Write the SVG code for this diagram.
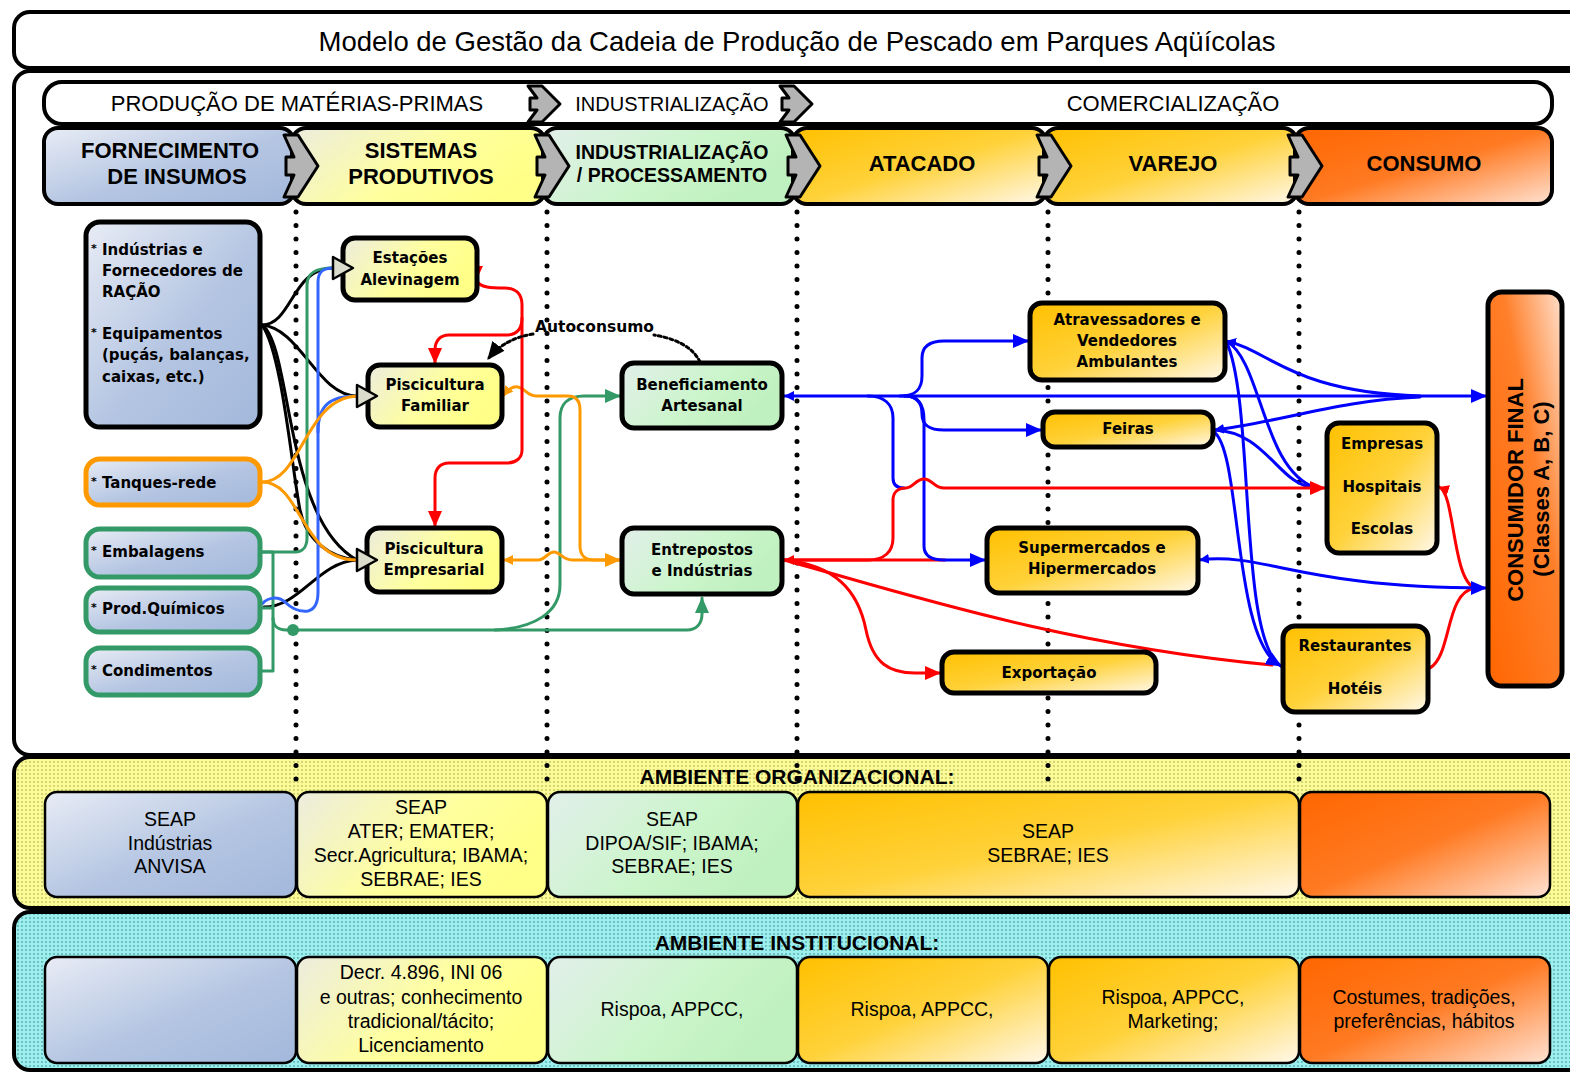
<svg xmlns="http://www.w3.org/2000/svg" width="1570" height="1074" viewBox="0 0 1570 1074">
<defs>
  <linearGradient id="gBlue" x1="0" y1="0" x2="1" y2="1">
    <stop offset="0" stop-color="#e8ecf5"/><stop offset="0.55" stop-color="#b4c5e2"/><stop offset="1" stop-color="#a3b8dc"/>
  </linearGradient>
  <linearGradient id="gYellow" x1="0" y1="0" x2="1" y2="0.4">
    <stop offset="0" stop-color="#ececdf"/><stop offset="0.6" stop-color="#ffff9e"/><stop offset="1" stop-color="#ffff88"/>
  </linearGradient>
  <linearGradient id="gGreen" x1="0" y1="0" x2="1" y2="0.4">
    <stop offset="0" stop-color="#e2efea"/><stop offset="0.6" stop-color="#cbf5cb"/><stop offset="1" stop-color="#bff0bf"/>
  </linearGradient>
  <linearGradient id="gGold" x1="0" y1="0" x2="1" y2="1">
    <stop offset="0" stop-color="#ffc000"/><stop offset="0.5" stop-color="#ffd23a"/><stop offset="1" stop-color="#fff8ea"/>
  </linearGradient>
  <linearGradient id="gOrange" x1="0" y1="0" x2="1" y2="1">
    <stop offset="0" stop-color="#ff6600"/><stop offset="0.5" stop-color="#ff7a22"/><stop offset="1" stop-color="#ffe2d2"/>
  </linearGradient>
  <linearGradient id="gCons" x1="0" y1="1" x2="1" y2="0">
    <stop offset="0" stop-color="#ff6600"/><stop offset="0.6" stop-color="#ff7f2a"/><stop offset="1" stop-color="#ffe0cc"/>
  </linearGradient>
  <pattern id="pOrg" width="4" height="4" patternUnits="userSpaceOnUse">
    <rect width="4" height="4" fill="#fbfb9a"/><circle cx="2" cy="2" r="0.9" fill="#c4c45a"/>
  </pattern>
  <pattern id="pInst" width="4" height="4" patternUnits="userSpaceOnUse">
    <rect width="4" height="4" fill="#9eeeee"/><circle cx="2" cy="2" r="0.9" fill="#4fb0b0"/>
  </pattern>
  <marker id="aBlue" viewBox="0 0 16 14" refX="15" refY="7" markerWidth="16" markerHeight="14" markerUnits="userSpaceOnUse" orient="auto"><path d="M0,0 L16,7 L0,14 z" fill="#0000ff"/></marker>
  <marker id="aRed" viewBox="0 0 16 14" refX="15" refY="7" markerWidth="16" markerHeight="14" markerUnits="userSpaceOnUse" orient="auto"><path d="M0,0 L16,7 L0,14 z" fill="#ff0000"/></marker>
  <marker id="aOrange" viewBox="0 0 16 14" refX="15" refY="7" markerWidth="16" markerHeight="14" markerUnits="userSpaceOnUse" orient="auto"><path d="M0,0 L16,7 L0,14 z" fill="#ff9900"/></marker>
  <marker id="aGreen" viewBox="0 0 16 14" refX="15" refY="7" markerWidth="16" markerHeight="14" markerUnits="userSpaceOnUse" orient="auto"><path d="M0,0 L16,7 L0,14 z" fill="#339966"/></marker>
  <marker id="aBlack" viewBox="0 0 16 14" refX="15" refY="7" markerWidth="18" markerHeight="16" markerUnits="userSpaceOnUse" orient="auto"><path d="M0,0 L16,7 L0,14 z" fill="#000"/></marker>
  <marker id="tBlue" viewBox="0 0 10 10" refX="10" refY="5" markerWidth="10" markerHeight="10" markerUnits="userSpaceOnUse" orient="auto-start-reverse"><path d="M0,0 L10,5 L0,10 z" fill="#0000ff"/></marker>
  <marker id="tRed" viewBox="0 0 10 10" refX="10" refY="5" markerWidth="10" markerHeight="10" markerUnits="userSpaceOnUse" orient="auto-start-reverse"><path d="M0,0 L10,5 L0,10 z" fill="#ff0000"/></marker>
  <marker id="tOrange" viewBox="0 0 10 10" refX="10" refY="5" markerWidth="10" markerHeight="10" markerUnits="userSpaceOnUse" orient="auto-start-reverse"><path d="M0,0 L10,5 L0,10 z" fill="#ff9900"/></marker>
  <path id="chevS" d="M0,0 L14,0 L34,31 L14,62 L0,62 L10,40 L2,40 L2,22 L10,22 Z"/>
  <path id="chevP" d="M0,0 L14,0 L32,18 L14,36 L0,36 L9,24 L2,24 L2,12 L9,12 Z"/>
</defs>
<style>
  .frame{fill:#fff;stroke:#000;stroke-width:4}
  .stage{stroke:#000;stroke-width:4}
  .chev{fill:#b4b4b4;stroke:#000;stroke-width:3;stroke-linejoin:round}
  .band{stroke:#000;stroke-width:4}
  .cell{stroke:#000;stroke-width:2.5}
  .dots{stroke:#000;stroke-width:5;stroke-linecap:round;stroke-dasharray:0 13.5;fill:none}
  .node{stroke:#000;stroke-width:5}
  .c{fill:none;stroke-width:3;stroke-linecap:round;stroke-linejoin:round}
  .inarrow{fill:#dcdccc;stroke:#000;stroke-width:2.5;stroke-linejoin:round}
  .title{font-family:"Liberation Sans",Arial,sans-serif;font-size:27.5px;text-anchor:middle;fill:#000}
  .phase{font-family:"Liberation Sans",Arial,sans-serif;font-size:22px;text-anchor:middle;fill:#000}
  .stg{font-family:"Liberation Sans",Arial,sans-serif;font-size:22px;font-weight:bold;text-anchor:middle;fill:#000}
  .stg2{font-family:"Liberation Sans",Arial,sans-serif;font-size:19.5px;font-weight:bold;text-anchor:middle;fill:#000}
  .nt{font-family:"DejaVu Sans",Verdana,sans-serif;font-size:15px;font-weight:bold;text-anchor:middle;fill:#000}
  .lt{font-family:"DejaVu Sans",Verdana,sans-serif;font-size:15px;font-weight:bold;fill:#000}
  .ast{font-family:"DejaVu Sans",Verdana,sans-serif;font-size:11px;font-weight:bold;fill:#000}
  .bt{font-family:"Liberation Sans",Arial,sans-serif;font-size:19.5px;text-anchor:middle;fill:#000}
  .bh{font-family:"Liberation Sans",Arial,sans-serif;font-size:21px;font-weight:bold;text-anchor:middle;fill:#000}
  .cf{font-family:"Liberation Sans",Arial,sans-serif;font-size:22px;font-weight:bold;text-anchor:middle;fill:#000}
  .auto{font-family:"DejaVu Sans",Verdana,sans-serif;font-size:15.5px;font-weight:bold;fill:#000}
</style>

<!-- Frames -->
<g id="title-box">
  <rect class="frame" x="14" y="12" width="1600" height="56" rx="16"/>
  <text class="title" x="797" y="51">Modelo de Gestão da Cadeia de Produção de Pescado em Parques Aqüícolas</text>
</g>
<rect id="main-frame" class="frame" x="14" y="71" width="1600" height="684" rx="16"/>
<rect id="org-band" class="band" fill="url(#pOrg)" x="14" y="757" width="1600" height="151" rx="16"/>
<rect id="inst-band" class="band" fill="url(#pInst)" x="14" y="912" width="1600" height="158" rx="16"/>

<!-- Phase row -->
<g id="phase-row">
  <rect x="44" y="82" width="1508" height="42" rx="18" fill="#fff" stroke="#000" stroke-width="4"/>
  <text class="phase" x="297" y="111">PRODUÇÃO DE MATÉRIAS-PRIMAS</text>
  <text class="phase" x="672" y="111" style="font-size:20px">INDUSTRIALIZAÇÃO</text>
  <text class="phase" x="1173" y="111">COMERCIALIZAÇÃO</text>
  <use href="#chevP" class="chev" x="528" y="86"/>
  <use href="#chevP" class="chev" x="780" y="86"/>
</g>

<!-- Stage row -->
<g id="stage-row">
  <rect class="stage" fill="url(#gBlue)" x="44" y="128" width="250" height="76" rx="14"/>
  <rect class="stage" fill="url(#gYellow)" x="292" y="128" width="253" height="76" rx="14"/>
  <rect class="stage" fill="url(#gGreen)" x="543" y="128" width="252" height="76" rx="14"/>
  <rect class="stage" fill="url(#gGold)" x="793" y="128" width="253" height="76" rx="14"/>
  <rect class="stage" fill="url(#gGold)" x="1044" y="128" width="253" height="76" rx="14"/>
  <rect class="stage" fill="url(#gOrange)" x="1295" y="128" width="257" height="76" rx="14"/>
  <text class="stg" x="170" y="158">FORNECIMENTO</text>
  <text class="stg" x="177" y="184">DE INSUMOS</text>
  <text class="stg" x="421" y="158">SISTEMAS</text>
  <text class="stg" x="421" y="184">PRODUTIVOS</text>
  <text class="stg2" x="672" y="159">INDUSTRIALIZAÇÃO</text>
  <text class="stg2" x="672" y="182">/ PROCESSAMENTO</text>
  <text class="stg" x="922" y="171">ATACADO</text>
  <text class="stg" x="1173" y="171">VAREJO</text>
  <text class="stg" x="1424" y="171">CONSUMO</text>
  <use href="#chevS" class="chev" x="284" y="135"/>
  <use href="#chevS" class="chev" x="535" y="135"/>
  <use href="#chevS" class="chev" x="786" y="135"/>
  <use href="#chevS" class="chev" x="1037" y="135"/>
  <use href="#chevS" class="chev" x="1288" y="135"/>
</g>

<!-- Dotted stage dividers -->
<g id="dividers">
  <line class="dots" x1="296" y1="212" x2="296" y2="788"/>
  <line class="dots" x1="547" y1="212" x2="547" y2="788"/>
  <line class="dots" x1="797" y1="212" x2="797" y2="788"/>
  <line class="dots" x1="1048" y1="212" x2="1048" y2="788"/>
  <line class="dots" x1="1299" y1="212" x2="1299" y2="788"/>
</g>

<!-- Organizational environment -->
<g id="org-cells">
  <text class="bh" x="797" y="784">AMBIENTE ORGANIZACIONAL:</text>
  <rect class="cell" fill="url(#gBlue)" x="45" y="792" width="251" height="105" rx="12"/>
  <rect class="cell" fill="url(#gYellow)" x="297" y="792" width="250" height="105" rx="12"/>
  <rect class="cell" fill="url(#gGreen)" x="548" y="792" width="249" height="105" rx="12"/>
  <rect class="cell" fill="url(#gGold)" x="798" y="792" width="501" height="105" rx="12"/>
  <rect class="cell" fill="url(#gOrange)" x="1300" y="792" width="250" height="105" rx="12"/>
  <text class="bt" x="170" y="826">SEAP</text>
  <text class="bt" x="170" y="850">Indústrias</text>
  <text class="bt" x="170" y="873">ANVISA</text>
  <text class="bt" x="421" y="814">SEAP</text>
  <text class="bt" x="421" y="838">ATER; EMATER;</text>
  <text class="bt" x="421" y="862">Secr.Agricultura; IBAMA;</text>
  <text class="bt" x="421" y="886">SEBRAE; IES</text>
  <text class="bt" x="672" y="826">SEAP</text>
  <text class="bt" x="672" y="850">DIPOA/SIF; IBAMA;</text>
  <text class="bt" x="672" y="873">SEBRAE; IES</text>
  <text class="bt" x="1048" y="838">SEAP</text>
  <text class="bt" x="1048" y="862">SEBRAE; IES</text>
</g>

<!-- Institutional environment -->
<g id="inst-cells">
  <text class="bh" x="797" y="950">AMBIENTE INSTITUCIONAL:</text>
  <rect class="cell" fill="url(#gBlue)" x="45" y="957" width="251" height="106" rx="12"/>
  <rect class="cell" fill="url(#gYellow)" x="297" y="957" width="250" height="106" rx="12"/>
  <rect class="cell" fill="url(#gGreen)" x="548" y="957" width="249" height="106" rx="12"/>
  <rect class="cell" fill="url(#gGold)" x="798" y="957" width="250" height="106" rx="12"/>
  <rect class="cell" fill="url(#gGold)" x="1049" y="957" width="250" height="106" rx="12"/>
  <rect class="cell" fill="url(#gOrange)" x="1300" y="957" width="250" height="106" rx="12"/>
  <text class="bt" x="421" y="979">Decr. 4.896, INI 06</text>
  <text class="bt" x="421" y="1004">e outras; conhecimento</text>
  <text class="bt" x="421" y="1028">tradicional/tácito;</text>
  <text class="bt" x="421" y="1052">Licenciamento</text>
  <text class="bt" x="672" y="1016">Rispoa, APPCC,</text>
  <text class="bt" x="922" y="1016">Rispoa, APPCC,</text>
  <text class="bt" x="1173" y="1004">Rispoa, APPCC,</text>
  <text class="bt" x="1173" y="1028">Marketing;</text>
  <text class="bt" x="1424" y="1004">Costumes, tradições,</text>
  <text class="bt" x="1424" y="1028">preferências, hábitos</text>
</g>

<!-- Connectors -->
<g id="connectors">
  <!-- black from insumos -->
  <path class="c" stroke="#000" d="M262,325 C292,325 292,268 333,268"/>
  <path class="c" stroke="#000" d="M262,325 C300,328 318,396 357,396"/>
  <path class="c" stroke="#000" d="M262,325 C292,345 284,520 357,560"/>
  <path class="c" stroke="#000" d="M262,325 C282,352 292,470 300,510 C306,540 330,558 357,560"/>
  <path class="c" stroke="#000" d="M264,607 C300,607 318,562 357,560"/>
  <!-- green from embalagens / bus -->
  <path class="c" stroke="#339966" d="M262,552 L295,552 C303,552 307,546 307,538 L307,285 C307,274 314,268 333,268"/>
  <path class="c" stroke="#339966" d="M262,552 L273,552 L273,671 L262,671 M262,608 L273,608"/>
  <path class="c" stroke="#339966" d="M273,618 C273,626 278,630 286,630 L687,630 C696,630 702,624 702,614 L702,598" marker-end="url(#aGreen)"/>
  <path class="c" stroke="#339966" d="M495,630 C535,628 560,612 560,585 L560,418 C560,404 568,396 584,396 L620,396" marker-end="url(#aGreen)"/>
  <circle cx="293" cy="630" r="6" fill="#339966"/>
  <!-- blue from prod. quimicos -->
  <path class="c" stroke="#3366ff" d="M262,604 C268,597 278,596 285,602 C292,609 300,612 308,611 C316,609 318,602 318,592 L318,282 C318,272 323,268 333,268"/>
  <path class="c" stroke="#3366ff" d="M318,432 C318,405 330,396 357,396"/>
  <!-- orange -->
  <path class="c" stroke="#ff9900" d="M262,482 C302,482 305,398 357,396"/>
  <path class="c" stroke="#ff9900" d="M262,482 C302,482 300,560 357,560"/>
  <path class="c" stroke="#ff9900" marker-start="url(#tOrange)" d="M503,396 C508,390 512,386 518,387 C525,388 527,396 536,396 L568,396 C576,396 580,401 580,410 L580,546 C580,555 585,560 594,560 L620,560"/>
  <path class="c" stroke="#ff9900" marker-start="url(#tOrange)" marker-end="url(#aOrange)" d="M503,560 L538,560 C545,560 548,552 554,552 C560,552 563,560 572,560 L620,560"/>
  <!-- red within production systems -->
  <path class="c" stroke="#ff0000" d="M476,280 C480,288 492,288 505,288 C516,288 522,294 522,305 L522,450 C522,458 516,463 507,463 L449,463 C440,463 435,469 435,478 L435,526" marker-end="url(#aRed)"/>
  <path class="c" stroke="#ff0000" d="M522,318 C522,330 516,335 506,335 L449,335 C440,335 435,341 435,350 L435,363" marker-end="url(#aRed)"/>
  <polygon points="467,266 483,266 475,283" fill="#ff0000"/>
  <!-- autoconsumo -->
  <path class="c" stroke="#000" stroke-dasharray="3 3" stroke-linecap="butt" d="M700,362 C692,345 672,338 654,335"/>
  <path class="c" stroke="#000" stroke-dasharray="3 3" stroke-linecap="butt" d="M533,334 C515,337 500,344 488,359" marker-end="url(#aBlack)"/>
  <text class="auto" x="535" y="332">Autoconsumo</text>
  <!-- red from entrepostos -->
  <path class="c" stroke="#ff0000" marker-start="url(#tRed)" d="M784,560 L945,560"/>
  <path class="c" stroke="#ff0000" d="M784,560 C835,565 858,590 866,630 C873,664 890,673 915,673 L940,673" marker-end="url(#aRed)"/>
  <path class="c" stroke="#ff0000" d="M784,560 C900,592 1060,645 1272,665"/>
  <!-- blue from beneficiamento -->
  <path class="c" stroke="#0000ff" marker-start="url(#tBlue)" marker-end="url(#aBlue)" d="M784,396 L1486,396"/>
  <path class="c" stroke="#0000ff" d="M900,396 C915,396 922,390 922,376 L922,358 C922,347 929,341 944,341 L1028,341" marker-end="url(#aBlue)"/>
  <path class="c" stroke="#0000ff" d="M905,396 C917,396 922,403 922,414 C922,425 929,430 944,430 L1041,430" marker-end="url(#aBlue)"/>
  <path class="c" stroke="#0000ff" d="M905,396 C918,396 924,405 924,420 L924,546 C924,555 931,560 944,560 L985,560" marker-end="url(#aBlue)"/>
  <path class="c" stroke="#0000ff" d="M868,396 C884,396 893,404 893,418 L893,478 C893,485 897,488 904,488"/>
  <!-- blue from retail nodes -->
  <path class="c" stroke="#0000ff" marker-start="url(#tBlue)" d="M1226,341 C1270,350 1290,392 1420,396"/>
  <path class="c" stroke="#0000ff" d="M1226,341 C1262,360 1262,470 1316,488"/>
  <path class="c" stroke="#0000ff" marker-start="url(#tBlue)" d="M1214,430 C1280,422 1340,400 1420,397"/>
  <path class="c" stroke="#0000ff" d="M1214,430 C1268,432 1278,486 1316,488"/>
  <path class="c" stroke="#0000ff" d="M1214,432 C1242,452 1232,642 1281,666"/>
  <path class="c" stroke="#0000ff" d="M1226,341 C1255,400 1238,640 1281,666" marker-end="url(#aBlue)"/>
  <!-- red to empresas/hospitais -->
  <path class="c" stroke="#ff0000" d="M784,560 L868,560 C884,560 893,552 893,538 L893,500 C893,492 898,488 906,488 C913,488 916,479 924,479 C932,479 934,488 944,488 L1325,488" marker-end="url(#aRed)"/>
  <!-- red to consumer -->
  <path class="c" stroke="#ff0000" marker-start="url(#tRed)" d="M1439,487 C1455,492 1452,580 1475,588"/>
  <path class="c" stroke="#ff0000" d="M1430,668 C1452,655 1445,592 1475,588"/>
  <path class="c" stroke="#0000ff" marker-start="url(#tBlue)" marker-end="url(#aBlue)" d="M1199,560 C1265,552 1300,588 1486,588"/>
</g>

<!-- Input nodes -->
<g id="node-racao">
  <rect class="node" fill="url(#gBlue)" x="86" y="222" width="174" height="205" rx="14"/>
  <text class="ast" x="91" y="252">*</text>
  <text class="lt" x="102" y="255">Indústrias e</text>
  <text class="lt" x="102" y="276">Fornecedores de</text>
  <text class="lt" x="102" y="297">RAÇÃO</text>
  <text class="ast" x="91" y="336">*</text>
  <text class="lt" x="102" y="339">Equipamentos</text>
  <text class="lt" x="102" y="360">(puçás, balanças,</text>
  <text class="lt" x="102" y="382">caixas, etc.)</text>
</g>
<g id="node-tanques">
  <rect fill="url(#gBlue)" stroke="#ff9900" stroke-width="5" x="86" y="459" width="174" height="46" rx="14"/>
  <text class="ast" x="91" y="485">*</text>
  <text class="lt" x="102" y="488">Tanques-rede</text>
</g>
<g id="node-embalagens">
  <rect fill="url(#gBlue)" stroke="#339966" stroke-width="5" x="86" y="529" width="174" height="48" rx="14"/>
  <text class="ast" x="91" y="554">*</text>
  <text class="lt" x="102" y="557">Embalagens</text>
</g>
<g id="node-quimicos">
  <rect fill="url(#gBlue)" stroke="#339966" stroke-width="5" x="86" y="588" width="174" height="44" rx="14"/>
  <text class="ast" x="91" y="611">*</text>
  <text class="lt" x="102" y="614">Prod.Químicos</text>
</g>
<g id="node-condimentos">
  <rect fill="url(#gBlue)" stroke="#339966" stroke-width="5" x="86" y="648" width="174" height="47" rx="14"/>
  <text class="ast" x="91" y="673">*</text>
  <text class="lt" x="102" y="676">Condimentos</text>
</g>

<!-- Production systems -->
<g id="node-alevinagem">
  <rect class="node" fill="url(#gYellow)" x="343" y="238" width="134" height="62" rx="12"/>
  <text class="nt" x="410" y="263">Estações</text>
  <text class="nt" x="410" y="285">Alevinagem</text>
</g>
<g id="node-familiar">
  <rect class="node" fill="url(#gYellow)" x="368" y="365" width="134" height="62" rx="12"/>
  <text class="nt" x="435" y="390">Piscicultura</text>
  <text class="nt" x="435" y="411">Familiar</text>
</g>
<g id="node-empresarial">
  <rect class="node" fill="url(#gYellow)" x="367" y="528" width="135" height="64" rx="12"/>
  <text class="nt" x="434" y="554">Piscicultura</text>
  <text class="nt" x="434" y="575">Empresarial</text>
</g>
<polygon class="inarrow" points="333,257 353,268 333,279"/>
<polygon class="inarrow" points="357,385 377,396 357,407"/>
<polygon class="inarrow" points="357,549 377,560 357,571"/>

<!-- Processing -->
<g id="node-beneficiamento">
  <rect class="node" fill="url(#gGreen)" x="622" y="363" width="160" height="65" rx="12"/>
  <text class="nt" x="702" y="390">Beneficiamento</text>
  <text class="nt" x="702" y="411">Artesanal</text>
</g>
<g id="node-entrepostos">
  <rect class="node" fill="url(#gGreen)" x="622" y="528" width="160" height="66" rx="12"/>
  <text class="nt" x="702" y="555">Entrepostos</text>
  <text class="nt" x="702" y="576">e Indústrias</text>
</g>

<!-- Commercialization -->
<g id="node-atravessadores">
  <rect class="node" fill="url(#gGold)" x="1030" y="303" width="195" height="77" rx="12"/>
  <text class="nt" x="1127" y="325">Atravessadores e</text>
  <text class="nt" x="1127" y="346">Vendedores</text>
  <text class="nt" x="1127" y="367">Ambulantes</text>
</g>
<g id="node-feiras">
  <rect class="node" fill="url(#gGold)" x="1043" y="412" width="170" height="35" rx="12"/>
  <text class="nt" x="1128" y="434">Feiras</text>
</g>
<g id="node-supermercados">
  <rect class="node" fill="url(#gGold)" x="987" y="528" width="211" height="65" rx="12"/>
  <text class="nt" x="1092" y="553">Supermercados e</text>
  <text class="nt" x="1092" y="574">Hipermercados</text>
</g>
<g id="node-exportacao">
  <rect class="node" fill="url(#gGold)" x="942" y="652" width="214" height="41" rx="12"/>
  <text class="nt" x="1049" y="678">Exportação</text>
</g>
<g id="node-empresas">
  <rect class="node" fill="url(#gGold)" x="1327" y="423" width="110" height="130" rx="12"/>
  <text class="nt" x="1382" y="449">Empresas</text>
  <text class="nt" x="1382" y="492">Hospitais</text>
  <text class="nt" x="1382" y="534">Escolas</text>
</g>
<g id="node-restaurantes">
  <rect class="node" fill="url(#gGold)" x="1283" y="626" width="145" height="86" rx="12"/>
  <text class="nt" x="1355" y="651">Restaurantes</text>
  <text class="nt" x="1355" y="694">Hotéis</text>
</g>
<g id="node-consumidor">
  <rect class="node" fill="url(#gCons)" x="1488" y="292" width="74" height="394" rx="14"/>
  <text class="cf" transform="translate(1523,490) rotate(-90)">CONSUMIDOR FINAL</text>
  <text class="cf" transform="translate(1549,489) rotate(-90)">(Classes A, B, C)</text>
</g>
</svg>
